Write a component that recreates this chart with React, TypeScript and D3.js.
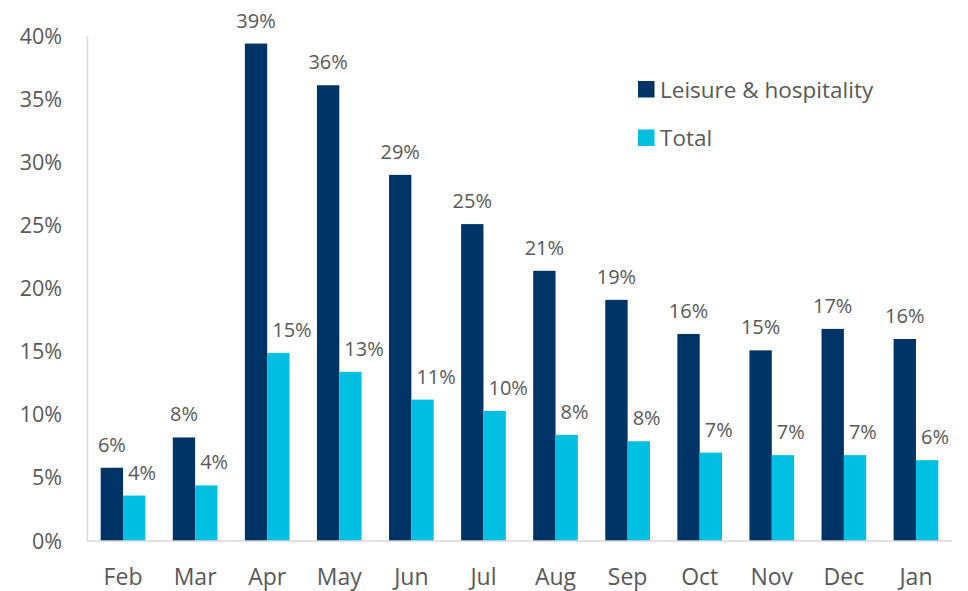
import React from "react";
import * as d3 from "d3";

const months = ["Feb", "Mar", "Apr", "May", "Jun", "Jul", "Aug", "Sep", "Oct", "Nov", "Dec", "Jan"];
const leisure = [5.8, 8.2, 39.4, 36.1, 29.0, 25.1, 21.4, 19.1, 16.4, 15.1, 16.8, 16.0];
const total = [3.6, 4.4, 14.9, 13.4, 11.2, 10.3, 8.4, 7.9, 7.0, 6.8, 6.8, 6.4];
const seriesNames = ["Leisure & hospitality", "Total"];
const seriesColors = ["#003366", "#00C0E2"];
const yTicks = [0, 5, 10, 15, 20, 25, 30, 35, 40];

const W = 968;
const H = 591;
const FONT = "'Open Sans', 'Noto Sans', sans-serif";
const TEXT = "#595959";

export default function App() {
  const x = d3.scaleBand<string>().domain(months).range([87, 952]).paddingInner(0.38).paddingOuter(0.19);
  const sub = d3.scaleBand<number>().domain([0, 1]).range([0, x.bandwidth()]);
  const y = d3.scaleLinear().domain([0, 40]).range([541, 36]);
  const fmt = (v: number) => `${Math.round(v)}%`;
  const series = [leisure, total];

  return (
    <svg width={W} height={H} style={{ position: "absolute", left: 0, top: 0, background: "#fff" }} fontFamily={FONT}>
      <line x1={87.5} x2={87.5} y1={y(40)} y2={y(0)} stroke="#D9D9D9" strokeWidth={1.5} />
      {yTicks.map((t) => (
        <text key={t} x={62} y={y(t)} dy="0.35em" textAnchor="end" fontSize={21.5} fill={TEXT}>
          {t}%
        </text>
      ))}
      {series.map((vals, si) =>
        vals.map((v, i) => {
          const bx = (x(months[i]) as number) + (sub(si) as number);
          const bw = sub.bandwidth();
          return (
            <g key={`${si}-${i}`}>
              <rect x={bx} y={y(v)} width={bw} height={y(0) - y(v)} fill={seriesColors[si]} />
              <text
                x={si === 0 ? bx + bw / 2 : bx + 5}
                y={y(v) - 16}
                textAnchor={si === 0 ? "middle" : "start"}
                fontSize={20}
                fill={TEXT}
              >
                {fmt(v)}
              </text>
            </g>
          );
        })
      )}
      <line x1={87} x2={952} y1={541} y2={541} stroke="#D9D9D9" strokeWidth={1.5} />
      {months.map((m) => (
        <text key={m} x={(x(m) as number) + x.bandwidth() / 2} y={585} textAnchor="middle" fontSize={23} fill={TEXT}>
          {m}
        </text>
      ))}
      {seriesNames.map((n, i) => (
        <g key={n} transform={`translate(638, ${81 + i * 48.5})`}>
          <rect x={0} y={0} width={16.5} height={16.5} fill={seriesColors[i]} />
          <text x={22} y={16.5} fontSize={22.5} fill={TEXT}>
            {n}
          </text>
        </g>
      ))}
    </svg>
  );
}
